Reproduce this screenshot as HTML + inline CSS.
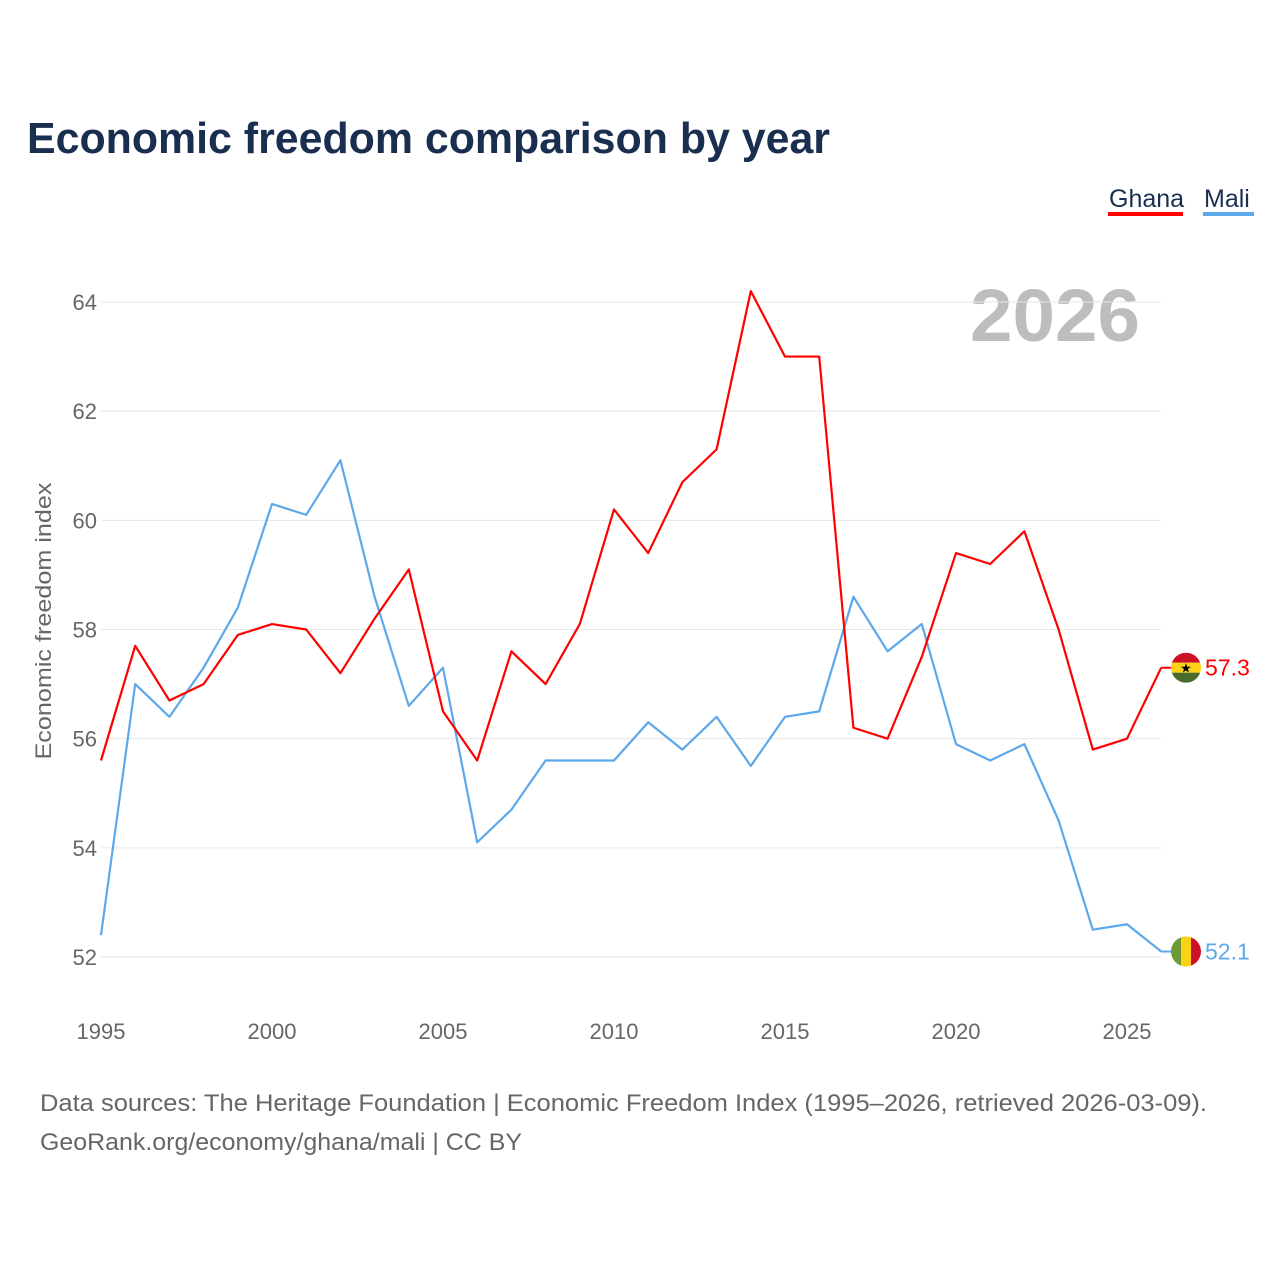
<!DOCTYPE html>
<html><head><meta charset="utf-8"><style>
body{margin:0;background:#fff;font-family:"Liberation Sans",sans-serif}
svg text{font-family:"Liberation Sans",sans-serif}
</style></head><body>
<svg id="chart" width="1280" height="1280">
<text x="27" y="153" font-size="44" font-weight="bold" fill="#1a2e4f" textLength="803" lengthAdjust="spacingAndGlyphs">Economic freedom comparison by year</text>
<g>
<text x="1109" y="207" font-size="25" fill="#1a2e4f">Ghana</text>
<rect x="1108" y="212" width="75" height="4" fill="#ff0000"/>
<text x="1204" y="207" font-size="25" fill="#1a2e4f">Mali</text>
<rect x="1203" y="212" width="51" height="4" fill="#5da8ea"/>
</g>
<text x="1140" y="341" font-size="74" font-weight="bold" fill="#bdbdbd" text-anchor="end" textLength="170" lengthAdjust="spacingAndGlyphs">2026</text>
<g id="grid"></g><g id="axes"></g><g id="series"></g>
<text transform="translate(51,621) rotate(-90)" font-size="22" fill="#666" text-anchor="middle" textLength="277" lengthAdjust="spacingAndGlyphs">Economic freedom index</text>
<text x="40" y="1111" font-size="24" fill="#666" textLength="1167" lengthAdjust="spacingAndGlyphs">Data sources: The Heritage Foundation | Economic Freedom Index (1995–2026, retrieved 2026-03-09).</text>
<text x="40" y="1150" font-size="24" fill="#666" textLength="482" lengthAdjust="spacingAndGlyphs">GeoRank.org/economy/ghana/mali | CC BY</text>
</svg>
<script>
const years=[1995,1996,1997,1998,1999,2000,2001,2002,2003,2004,2005,2006,2007,2008,2009,2010,2011,2012,2013,2014,2015,2016,2017,2018,2019,2020,2021,2022,2023,2024,2025,2026];
const ghana=[55.6,57.7,56.7,57.0,57.9,58.1,58.0,57.2,58.2,59.1,56.5,55.6,57.6,57.0,58.1,60.2,59.4,60.7,61.3,64.2,63.0,63.0,56.2,56.0,57.5,59.4,59.2,59.8,58.0,55.8,56.0,57.3];
const mali=[52.4,57.0,56.4,57.3,58.4,60.3,60.1,61.1,58.6,56.6,57.3,54.1,54.7,55.6,55.6,55.6,56.3,55.8,56.4,55.5,56.4,56.5,58.6,57.6,58.1,55.9,55.6,55.9,54.5,52.5,52.6,52.1];
const yTicks=[52,54,56,58,60,62,64];
const xTicks=[1995,2000,2005,2010,2015,2020,2025];
const NS="http://www.w3.org/2000/svg";
const xs=y=>101+(y-1995)*(1127-101)/30;
const ys=v=>957-(v-52)*(957-302)/12;
function mk(t,a,p){const e=document.createElementNS(NS,t);for(const k in a)e.setAttribute(k,a[k]);p.appendChild(e);return e;}
const grid=document.getElementById('grid'),axes=document.getElementById('axes'),ser=document.getElementById('series');
yTicks.forEach(v=>{
 const l=mk('line',{x1:101,x2:1161,y1:ys(v),y2:ys(v),stroke:'#e6e6e6','stroke-width':1},grid);
 
 
 const t=mk('text',{x:97,y:ys(v)+8,'font-size':22,fill:'#666','text-anchor':'end'},axes);t.textContent=v;
 
 
});
xTicks.forEach(y=>{
 const t=mk('text',{x:xs(y),y:1039,'font-size':22,fill:'#666','text-anchor':'middle'},axes);t.textContent=y;
 
 
});
function line(vals,col,name){
 const p=mk('polyline',{points:vals.map((v,i)=>xs(years[i])+','+ys(v)).join(' '),fill:'none',stroke:col,'stroke-width':2.2,'stroke-linejoin':'round'},ser);
 
 
 const last=vals[vals.length-1],lx=xs(years[years.length-1]),ly=ys(last);
 const c=mk('line',{x1:lx,x2:1172,y1:ly,y2:ly,stroke:col,'stroke-width':2},ser);
 
 
 const g=mk('g',{},ser);
 
 
 const cx=1186,r=15;
 const clip=mk('clipPath',{id:'c'+name},g);mk('circle',{cx:cx,cy:ly,r:r},clip);
 if(name==='ghana'){
  mk('rect',{x:cx-r,y:ly-r,width:2*r,height:10,fill:'#ce1126','clip-path':'url(#cghana)'},g);
  mk('rect',{x:cx-r,y:ly-5,width:2*r,height:10,fill:'#fcd116','clip-path':'url(#cghana)'},g);
  mk('rect',{x:cx-r,y:ly+5,width:2*r,height:10,fill:'#4b6b2e','clip-path':'url(#cghana)'},g);
  const s=mk('text',{x:cx,y:ly+5,'font-size':13,'text-anchor':'middle',fill:'#000'},g);s.textContent='★';
 }else{
  mk('rect',{x:cx-r,y:ly-r,width:10,height:2*r,fill:'#6e9a35','clip-path':'url(#cmali)'},g);
  mk('rect',{x:cx-5,y:ly-r,width:10,height:2*r,fill:'#fcd116','clip-path':'url(#cmali)'},g);
  mk('rect',{x:cx+5,y:ly-r,width:10,height:2*r,fill:'#ce1126','clip-path':'url(#cmali)'},g);
 }
 const t=mk('text',{x:1205,y:ly+8,'font-size':23,fill:col},ser);t.textContent=last.toFixed(1);
 
 
}
line(mali,'#5da8ea','mali');
line(ghana,'#ff0000','ghana');
</script>
</body></html>
